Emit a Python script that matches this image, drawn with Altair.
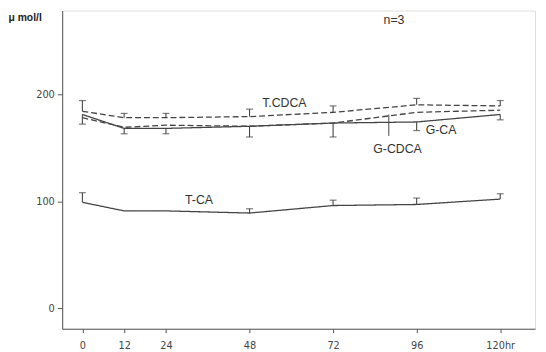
import altair as alt
import pandas as pd

hours = [0, 12, 24, 48, 72, 96, 120]
series = ["T.CDCA", "G-CA", "G-CDCA", "T-CA"]
t_cdca = [184, 178, 178, 179, 183, 190, 189]
g_ca = [181, 168, 168, 170, 173, 174, 181]
g_cdca = [178, 169, 171, 170, 173, 183, 185]
t_ca = [99, 91, 91, 89, 96, 97, 102]

# error bar ends (upper for T.CDCA / T-CA, lower for G-CA)
t_cdca_hi = [194, 182, 182, 186, 189, 196, 194]
g_ca_lo = [172, 163, 163, 160, 160, 166, 176]
t_ca_hi = [108, 91, 91, 93, 101, 103, 107]

labels = ["T.CDCA", "G-CA", "G-CDCA", "T-CA", "n=3"]
label_x = [58, 103, 90.5, 33.5, 89.5]
label_y = [192, 166, 149, 101, 269]

leader_x = [88]
leader_y = [161]
leader_y2 = [181]

x_ticks = [0, 12, 24, 48, 72, 96, 120]
y_ticks = [0, 100, 200]

rows = []
for name, vals in zip(series, [t_cdca, g_ca, g_cdca, t_ca]):
    for h, v in zip(hours, vals):
        rows.append({"series": name, "hr": h, "val": v})
lines_df = pd.DataFrame(rows)

err_rows = []
for name, mean, end in [("T.CDCA", t_cdca, t_cdca_hi), ("G-CA", g_ca, g_ca_lo), ("T-CA", t_ca, t_ca_hi)]:
    for h, m, e in zip(hours, mean, end):
        if e != m:
            err_rows.append({"series": name, "hr": h, "mean": m, "end": e})
err_df = pd.DataFrame(err_rows)

lab_df = pd.DataFrame({"text": labels, "hr": label_x, "val": label_y})
lead_df = pd.DataFrame({"hr": leader_x, "y1": leader_y, "y2": leader_y2})

ink = "#444444"
xs = alt.Scale(domain=[-5.8, 130], nice=False, zero=False)
ys = alt.Scale(domain=[-19, 278], nice=False, zero=False)

x_axis = alt.Axis(values=x_ticks, grid=False, title=None, domainColor="#555", tickColor="#555",
                  tickSize=4, labelFont="DejaVu Sans Condensed", labelFontSize=11, labelColor=ink,
                  labelPadding=7, labelExpr="datum.value == 120 ? '120hr' : datum.label")
y_axis = alt.Axis(values=y_ticks, grid=False, title="μ mol/l", titleAngle=0, titleAlign="left",
                  titleBaseline="middle", titleX=-55, titleY=7, titleFont="Liberation Sans",
                  titleFontSize=10.5, titleFontWeight="bold", titleColor="#222",
                  domainColor="#555", tickColor="#555", tickSize=5,
                  labelFont="DejaVu Sans Condensed", labelFontSize=11, labelColor=ink, labelPadding=3)

lines = alt.Chart(lines_df).mark_line(color=ink, strokeWidth=1.3).encode(
    x=alt.X("hr:Q", scale=xs, axis=x_axis),
    y=alt.Y("val:Q", scale=ys, axis=y_axis),
    strokeDash=alt.StrokeDash("series:N", scale=alt.Scale(domain=series,
                              range=[[6, 3], [1, 0], [6, 3], [1, 0]]), legend=None),
    detail="series:N",
)

bars = alt.Chart(err_df).mark_rule(color=ink, strokeWidth=1.1).encode(
    x="hr:Q", y="mean:Q", y2="end:Q")
caps = alt.Chart(err_df).mark_tick(color=ink, orient="horizontal", size=7, thickness=1.2).encode(
    x="hr:Q", y="end:Q")

texts = alt.Chart(lab_df).mark_text(font="Liberation Sans", fontSize=12.5, color="#333",
                                     align="center", baseline="middle").encode(
    x="hr:Q", y="val:Q", text="text:N")

leader = alt.Chart(lead_df).mark_rule(color=ink, strokeWidth=1).encode(
    x="hr:Q", y="y1:Q", y2="y2:Q")

chart = alt.layer(lines, bars, caps, leader, texts).properties(
    width=480, height=323,
    autosize=alt.AutoSizeParams(type="none"),
    padding={"left": 55, "top": 0, "right": 3, "bottom": 20},
).configure_view(stroke=None).configure(background="white")

chart.save("out.html", embed_options={"renderer": "svg", "actions": False})
